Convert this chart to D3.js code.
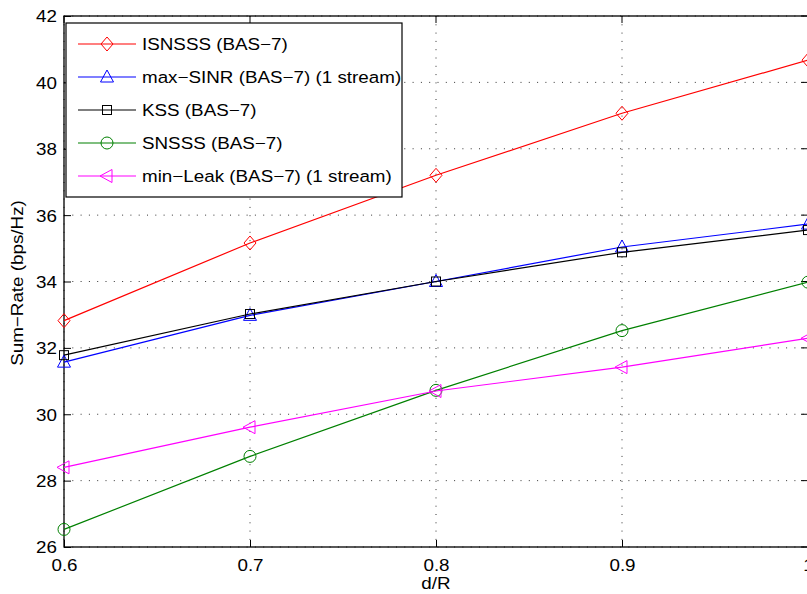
<!DOCTYPE html>
<html><head><meta charset="utf-8">
<script src="https://cdn.jsdelivr.net/npm/d3@7"></script>
<style>body{margin:0;background:#fff}svg{display:block}text{font-family:"Liberation Sans",Arial,Helvetica,sans-serif}</style>
</head><body><svg id="c" width="807" height="594"></svg>
<script>
const xValues = [0.6, 0.7, 0.8, 0.9, 1.0];
const isnsss = [32.82, 35.16, 37.2, 39.07, 40.67];
const maxSinr = [31.57, 32.98, 34.0, 35.04, 35.73];
const kss = [31.78, 33.02, 34.0, 34.88, 35.55];
const snsss = [26.53, 28.73, 30.72, 32.52, 33.98];
const minLeak = [28.4, 29.61, 30.7, 31.42, 32.29];
const seriesNames = ["ISNSSS (BAS\u22127)", "max\u2212SINR (BAS\u22127) (1 stream)", "KSS (BAS\u22127)", "SNSSS (BAS\u22127)", "min\u2212Leak (BAS\u22127) (1 stream)"];
const seriesColors = ["#ff0000", "#0000ff", "#000000", "#008000", "#ff00ff"];
const seriesMarkers = ["diamond", "triangle", "square", "circle", "triangleLeft"];
const xTicks = [0.6, 0.7, 0.8, 0.9, 1.0];
const xTickLabels = ["0.6", "0.7", "0.8", "0.9", "1"];
const yTicks = [26, 28, 30, 32, 34, 36, 38, 40, 42];

const series = [isnsss, maxSinr, kss, snsss, minLeak].map((v, i) => ({name: seriesNames[i], color: seriesColors[i], marker: seriesMarkers[i], values: v}));

const SX = 1.14, FS = 16.5;
const svg = d3.select("#c");
const L = 64, R = 808, T = 16, B = 547;
const x = d3.scaleLinear().domain([0.6, 1.0]).range([L, R]);
const y = d3.scaleLinear().domain([26, 42]).range([B, T]);

function stretch(sel, rot) {
  sel.each(function() {
    const t = d3.select(this);
    const tx = +t.attr("x") || 0, ty = +t.attr("y") || 0;
    t.attr("x", 0).attr("y", 0)
     .attr("transform", `translate(${tx},${ty})${rot ? " rotate(" + rot + ")" : ""} scale(${SX},1)`);
  });
}

// grid
const g = svg.append("g");
g.selectAll(".gx").data(xTicks).enter().append("line")
  .attr("x1", d => x(d)).attr("x2", d => x(d)).attr("y1", T).attr("y2", B)
  .attr("stroke", "#000").attr("stroke-width", 0.8).attr("stroke-dasharray", "1,7.3");
g.selectAll(".gy").data(yTicks).enter().append("line")
  .attr("y1", d => y(d)).attr("y2", d => y(d)).attr("x1", L).attr("x2", R)
  .attr("stroke", "#000").attr("stroke-width", 0.8).attr("stroke-dasharray", "1,7.3");

// axes
const xAxis = d3.axisBottom(x).tickValues(xTicks).tickFormat((d, i) => xTickLabels[i]).tickSizeInner(-7).tickSizeOuter(0).tickPadding(12);
const yAxis = d3.axisLeft(y).tickValues(yTicks).tickFormat(d3.format("d")).tickSizeInner(-7).tickSizeOuter(0).tickPadding(7);
const ax = svg.append("g").attr("transform", `translate(0,${B})`).call(xAxis);
const ay = svg.append("g").attr("transform", `translate(${L},0)`).call(yAxis);
[ax, ay].forEach(a => {
  a.select(".domain").remove();
  a.selectAll("text").attr("font-size", FS).attr("fill", "#000");
  a.selectAll("line").attr("stroke", "#000");
});
ax.selectAll("text").attr("y", 24).attr("dy", null);
ay.selectAll("text").attr("x", -7).attr("dy", "0.36em");
stretch(ax.selectAll("text"));
stretch(ay.selectAll("text"));
// top/right ticks
svg.append("g").selectAll("line").data(xTicks).enter().append("line")
  .attr("x1", d => x(d)).attr("x2", d => x(d)).attr("y1", T).attr("y2", T + 7).attr("stroke", "#000");
svg.append("g").selectAll("line").data(yTicks).enter().append("line")
  .attr("y1", d => y(d)).attr("y2", d => y(d)).attr("x1", R).attr("x2", R - 7).attr("stroke", "#000");
// box
svg.append("rect").attr("x", L).attr("y", T).attr("width", R - L).attr("height", B - T)
  .attr("fill", "none").attr("stroke", "#000").attr("stroke-width", 1.3);

// labels
const xl = svg.append("text").attr("x", x(0.8)).attr("y", 589).attr("text-anchor", "middle").attr("font-size", FS).text("d/R");
stretch(xl);
const yl = svg.append("text").attr("x", 23).attr("y", 283).attr("text-anchor", "middle").attr("font-size", FS).text("Sum\u2212Rate (bps/Hz)");
stretch(yl, -90);

function drawMarker(sel, type, color) {
  sel.each(function(d) {
    const s = d3.select(this);
    let p;
    if (type === "diamond") p = s.append("path").attr("d", "M0,-7L6,0L0,7L-6,0Z");
    else if (type === "triangle") p = s.append("path").attr("d", "M0,-7L6.5,5L-6.5,5Z");
    else if (type === "square") p = s.append("rect").attr("x", -4.5).attr("y", -4.5).attr("width", 9).attr("height", 9);
    else if (type === "circle") p = s.append("circle").attr("r", 6);
    else p = s.append("path").attr("d", "M-7,0L5,-6.5L5,6.5Z");
    p.attr("fill", "none").attr("stroke", color).attr("stroke-width", 1);
  });
}

const line = d3.line().x((d, i) => x(xValues[i])).y(d => y(d));
series.forEach(s => {
  svg.append("path").datum(s.values).attr("d", line).attr("fill", "none").attr("stroke", s.color).attr("stroke-width", 1.2);
  const m = svg.append("g").selectAll("g").data(s.values).enter().append("g")
    .attr("transform", (d, i) => `translate(${x(xValues[i])},${y(d)})`);
  drawMarker(m, s.marker, s.color);
});

// legend
const lg = svg.append("g");
lg.append("rect").attr("x", 66).attr("y", 23).attr("width", 336).attr("height", 174).attr("fill", "#fff").attr("stroke", "#000").attr("stroke-width", 1.2);
series.forEach((s, i) => {
  const cy = 44 + i * 33;
  lg.append("line").attr("x1", 78).attr("x2", 136).attr("y1", cy).attr("y2", cy).attr("stroke", s.color).attr("stroke-width", 1.2);
  const m = lg.append("g").datum(0).attr("transform", `translate(107,${cy})`);
  drawMarker(m, s.marker, s.color);
  const t = lg.append("text").attr("x", 142).attr("y", cy + 6).attr("font-size", FS).text(s.name);
  stretch(t);
});
</script></body></html>
